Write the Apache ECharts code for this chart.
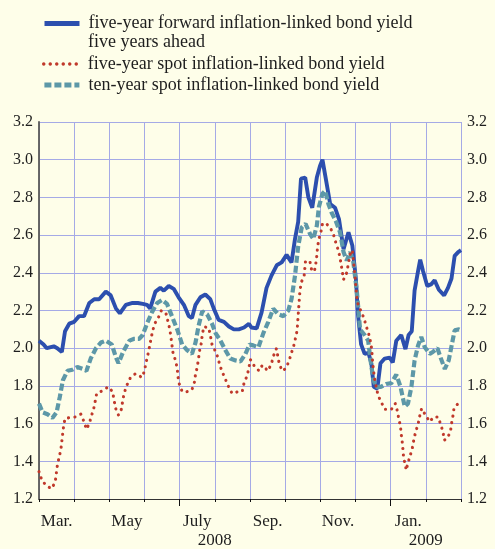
<!DOCTYPE html>
<html>
<head>
<meta charset="utf-8">
<title>Inflation-linked bond yields</title>
<script src="https://cdn.jsdelivr.net/npm/echarts@6/dist/echarts.min.js"></script>
<style>
  html, body { margin: 0; padding: 0; background: #fefee9; }
  #main { width: 495px; height: 549px; }
</style>
</head>
<body>
<div id="main"></div>
<script>
// x = months since 1 March 2008, y = yield in per cent
var monthNames = ['Mar.', 'Apr.', 'May', 'June', 'July', 'Aug.', 'Sep.', 'Oct.', 'Nov.', 'Dec.', 'Jan.', 'Feb.'];
var yearNames = ['2008', '2009'];
var yearAt = [5, 11];        // label centred on the Aug. / Feb. month boundary
var halfYearTicks = [4, 10]; // July and January

var fwdName = 'five-year forward inflation-linked bond yield';
var fwdName2 = 'five years ahead';
var spot5Name = 'five-year spot inflation-linked bond yield';
var spot10Name = 'ten-year spot inflation-linked bond yield';

var fwd = [
  [0, 2.04], [0.13, 2.02], [0.22, 2.00], [0.42, 2.01], [0.52, 2.00], [0.65, 1.98], [0.74, 2.09], [0.86, 2.13],
  [1.00, 2.14], [1.14, 2.17], [1.28, 2.17], [1.43, 2.24], [1.57, 2.26], [1.71, 2.26], [1.90, 2.30], [2.04, 2.28],
  [2.19, 2.21], [2.30, 2.185], [2.47, 2.23], [2.66, 2.24], [2.81, 2.24], [2.95, 2.235], [3.07, 2.23], [3.16, 2.21],
  [3.31, 2.30], [3.45, 2.32], [3.55, 2.305], [3.69, 2.33], [3.83, 2.315], [3.97, 2.27], [4.12, 2.23], [4.26, 2.17],
  [4.35, 2.16], [4.45, 2.23], [4.59, 2.27], [4.73, 2.285], [4.87, 2.26], [4.97, 2.21], [5.11, 2.15], [5.26, 2.14],
  [5.40, 2.115], [5.54, 2.10], [5.68, 2.10], [5.83, 2.11], [5.97, 2.13], [6.04, 2.11], [6.19, 2.105], [6.33, 2.19],
  [6.47, 2.32], [6.61, 2.385], [6.76, 2.44], [6.90, 2.455], [7.04, 2.495], [7.18, 2.455], [7.28, 2.58], [7.37, 2.67],
  [7.45, 2.90], [7.57, 2.905], [7.66, 2.80], [7.77, 2.745], [7.90, 2.905], [7.99, 2.967], [8.06, 3.00], [8.15, 2.905],
  [8.28, 2.765], [8.42, 2.745], [8.53, 2.685], [8.66, 2.525], [8.80, 2.615], [8.91, 2.545], [9.01, 2.37], [9.07, 2.18],
  [9.16, 2.02], [9.26, 1.97], [9.37, 1.975], [9.45, 1.92], [9.52, 1.795], [9.62, 1.785], [9.71, 1.92], [9.83, 1.945],
  [9.97, 1.95], [10.06, 1.925], [10.16, 2.04], [10.30, 2.07], [10.42, 1.995], [10.51, 2.07], [10.60, 2.09], [10.68, 2.305],
  [10.78, 2.41], [10.84, 2.47], [10.92, 2.41], [11.04, 2.33], [11.16, 2.34], [11.25, 2.36], [11.37, 2.31], [11.52, 2.28],
  [11.63, 2.32], [11.73, 2.37], [11.82, 2.49], [11.92, 2.51], [12, 2.52]
];

var spot5 = [
  [0, 1.345], [0.08, 1.30], [0.21, 1.27], [0.36, 1.255], [0.46, 1.29], [0.52, 1.375], [0.57, 1.42], [0.62, 1.46],
  [0.67, 1.54], [0.70, 1.586], [0.74, 1.627], [0.88, 1.632], [1.03, 1.635], [1.19, 1.65], [1.28, 1.61], [1.35, 1.57],
  [1.43, 1.60], [1.49, 1.64], [1.56, 1.683], [1.60, 1.72], [1.64, 1.76], [1.81, 1.775], [1.97, 1.795], [2.09, 1.77],
  [2.14, 1.72], [2.17, 1.685], [2.26, 1.645], [2.34, 1.675], [2.38, 1.72], [2.42, 1.76], [2.49, 1.80], [2.59, 1.84],
  [2.74, 1.865], [2.93, 1.845], [3.00, 1.88], [3.04, 1.92], [3.09, 1.96], [3.14, 2.005], [3.18, 2.045], [3.23, 2.09],
  [3.29, 2.13], [3.40, 2.165], [3.48, 2.20], [3.61, 2.185], [3.67, 2.14], [3.72, 2.10], [3.75, 2.06], [3.81, 1.976],
  [3.88, 1.935], [3.93, 1.895], [3.95, 1.85], [3.99, 1.81], [4.07, 1.77], [4.19, 1.768], [4.35, 1.78], [4.42, 1.82],
  [4.45, 1.86], [4.50, 1.90], [4.54, 1.95], [4.57, 1.99], [4.62, 2.03], [4.64, 2.07], [4.69, 2.115], [4.83, 2.106],
  [4.87, 2.07], [4.92, 2.02], [5.00, 1.99], [5.09, 1.95], [5.14, 1.91], [5.21, 1.875], [5.29, 1.84], [5.38, 1.80],
  [5.49, 1.76], [5.64, 1.768], [5.78, 1.77], [5.83, 1.815], [5.92, 1.855], [5.97, 1.897], [6.01, 1.94], [6.14, 1.90],
  [6.26, 1.88], [6.35, 1.91], [6.51, 1.88], [6.61, 1.918], [6.67, 1.96], [6.75, 1.997], [6.83, 1.92], [6.91, 1.88],
  [7.00, 1.89], [7.10, 1.926], [7.17, 1.97], [7.24, 2.01], [7.29, 2.05], [7.34, 2.094], [7.38, 2.20], [7.42, 2.305],
  [7.46, 2.35], [7.54, 2.385], [7.58, 2.465], [7.71, 2.455], [7.75, 2.417], [7.83, 2.406], [7.87, 2.447], [7.90, 2.49],
  [7.92, 2.535], [7.96, 2.58], [8.02, 2.62], [8.06, 2.66], [8.15, 2.664], [8.28, 2.64], [8.37, 2.605], [8.44, 2.56],
  [8.51, 2.52], [8.56, 2.48], [8.59, 2.447], [8.63, 2.40], [8.66, 2.364], [8.75, 2.40], [8.85, 2.50], [8.91, 2.52],
  [8.97, 2.41], [9.05, 2.245], [9.11, 2.217], [9.24, 2.16], [9.30, 2.12], [9.37, 2.08], [9.42, 2.04], [9.46, 1.997],
  [9.49, 1.918], [9.54, 1.839], [9.64, 1.75], [9.73, 1.715], [9.83, 1.676], [10.02, 1.675], [10.13, 1.706], [10.19, 1.667],
  [10.23, 1.627], [10.28, 1.583], [10.30, 1.544], [10.33, 1.50], [10.35, 1.46], [10.37, 1.415], [10.42, 1.38], [10.44, 1.353],
  [10.49, 1.39], [10.56, 1.433], [10.62, 1.474], [10.66, 1.516], [10.71, 1.556], [10.78, 1.597], [10.82, 1.635], [10.88, 1.68],
  [10.99, 1.645], [11.11, 1.61], [11.22, 1.635], [11.35, 1.635], [11.42, 1.597], [11.49, 1.556], [11.52, 1.512], [11.60, 1.52],
  [11.70, 1.556], [11.73, 1.60], [11.77, 1.64], [11.80, 1.68], [11.90, 1.703], [12, 1.688]
];

var spot10 = [
  [0, 1.706], [0.10, 1.66], [0.24, 1.65], [0.38, 1.63], [0.50, 1.66], [0.59, 1.74], [0.68, 1.83], [0.81, 1.88],
  [0.95, 1.886], [1.09, 1.90], [1.24, 1.89], [1.35, 1.88], [1.47, 1.945], [1.62, 2.00], [1.76, 2.03], [1.90, 2.04],
  [2.07, 2.02], [2.19, 1.95], [2.26, 1.92], [2.39, 1.98], [2.57, 2.04], [2.71, 2.05], [2.85, 2.05], [2.95, 2.07],
  [3.07, 2.13], [3.21, 2.19], [3.36, 2.24], [3.50, 2.256], [3.64, 2.235], [3.78, 2.17], [3.93, 2.10], [4.07, 2.02],
  [4.21, 1.99], [4.35, 1.97], [4.45, 2.03], [4.54, 2.12], [4.64, 2.195], [4.78, 2.18], [4.92, 2.13], [5.02, 2.08],
  [5.16, 2.04], [5.30, 1.99], [5.44, 1.945], [5.59, 1.935], [5.73, 1.93], [5.87, 1.97], [5.99, 2.02], [6.09, 2.015],
  [6.24, 2.005], [6.38, 2.08], [6.52, 2.14], [6.66, 2.21], [6.80, 2.18], [6.95, 2.17], [7.09, 2.20], [7.18, 2.26],
  [7.28, 2.385], [7.37, 2.54], [7.47, 2.64], [7.58, 2.66], [7.71, 2.605], [7.80, 2.58], [7.90, 2.65], [7.96, 2.75],
  [8.06, 2.82], [8.14, 2.835], [8.23, 2.765], [8.32, 2.72], [8.44, 2.675], [8.56, 2.615], [8.66, 2.51], [8.75, 2.465],
  [8.85, 2.51], [8.94, 2.455], [9.04, 2.30], [9.13, 2.10], [9.26, 2.07], [9.36, 2.04], [9.44, 1.92], [9.51, 1.83],
  [9.60, 1.795], [9.72, 1.795], [9.87, 1.81], [10.02, 1.815], [10.16, 1.86], [10.28, 1.795], [10.40, 1.69], [10.49, 1.705],
  [10.59, 1.795], [10.68, 1.935], [10.78, 2.015], [10.87, 2.06], [10.97, 2.005], [11.11, 1.97], [11.20, 1.98], [11.33, 2.00],
  [11.42, 1.95], [11.54, 1.89], [11.65, 1.935], [11.74, 2.02], [11.82, 2.095], [11.94, 2.10], [12, 2.095]
];

var font = 'Liberation Serif';
var gridColor = '#a5aae6';
var textColor = '#1e1e1e';
var fwdColor = '#2c4fae';
var spot5Color = '#c0392b';
var spot10Color = '#5d98a8';

// month names sit in the middle of every second month
var monthLabelAt = [];
for (var i = 0; i < monthNames.length; i += 2) {
    monthLabelAt.push(i + 0.5);
}

var myChart = echarts.init(document.getElementById('main'));

// one legend block per entry, so each key can get its own stroke width
function legendBox(name, top, width) {
    return {
        data: [name],
        left: 37,
        top: top,
        itemWidth: 35,
        itemHeight: 6,
        selectedMode: false,
        itemStyle: { opacity: 0 },
        lineStyle: { width: width },
        textStyle: {
            fontFamily: font,
            fontSize: 18,
            lineHeight: 21,
            color: textColor,
            padding: [0, 0, 0, 4]
        }
    };
}

myChart.setOption({
    backgroundColor: '#fefee9',
    animation: false,
    textStyle: { fontFamily: font },
    grid: { left: 39, right: 34, top: 122, bottom: 49 },
    legend: [
        legendBox(fwdName, 8, 5),
        legendBox(spot5Name, 48.5, 3.4),
        legendBox(spot10Name, 69.5, 4.8)
    ],
    graphic: [{
        type: 'text',
        left: 88,
        top: 33,
        style: {
            text: fwdName2,
            font: '18px "Liberation Serif"',
            fill: textColor
        }
    }],
    xAxis: [{
        type: 'value',
        position: 'bottom',
        min: 0,
        max: 12,
        interval: 1,
        axisLine: { show: true, onZero: false, lineStyle: { color: '#333', width: 1 } },
        axisTick: { show: true, length: 3, lineStyle: { color: '#111' } },
        splitLine: { show: true, lineStyle: { color: gridColor, width: 1 } },
        axisLabel: {
            customValues: monthLabelAt,
            formatter: function (v) { return monthNames[Math.floor(v)]; },
            margin: 14,
            fontSize: 17,
            fontFamily: font,
            color: textColor
        }
    }, {
        type: 'value',
        position: 'bottom',
        min: 0,
        max: 12,
        axisLine: { show: false, onZero: false },
        splitLine: { show: false },
        axisTick: { show: true, customValues: halfYearTicks, length: 7, lineStyle: { color: '#111' } },
        axisLabel: {
            customValues: yearAt,
            formatter: function (v) { return yearNames[yearAt.indexOf(v)]; },
            margin: 33,
            fontSize: 17,
            fontFamily: font,
            color: textColor
        }
    }],
    yAxis: [{
        type: 'value',
        position: 'left',
        min: 1.2,
        max: 3.2,
        interval: 0.2,
        axisLine: { show: true, lineStyle: { color: '#000', width: 1.5 } },
        axisTick: { show: false },
        splitLine: { show: true, lineStyle: { color: gridColor, width: 1 } },
        axisLabel: {
            formatter: function (v) { return v.toFixed(1); },
            margin: 6,
            fontSize: 16,
            fontFamily: font,
            color: textColor
        }
    }, {
        type: 'value',
        position: 'right',
        min: 1.2,
        max: 3.2,
        interval: 0.2,
        axisLine: { show: true, lineStyle: { color: '#777', width: 1.5 } },
        axisTick: { show: false },
        splitLine: { show: false },
        axisLabel: {
            formatter: function (v) { return v.toFixed(1); },
            margin: 6,
            fontSize: 16,
            fontFamily: font,
            color: textColor
        }
    }],
    series: [{
        name: fwdName,
        type: 'line',
        data: fwd,
        symbol: 'none',
        silent: true,
        z: 2,
        lineStyle: { color: fwdColor, width: 3.9 }
    }, {
        name: spot10Name,
        type: 'line',
        data: spot10,
        symbol: 'none',
        silent: true,
        z: 3,
        lineStyle: { color: spot10Color, width: 4.2, type: [7, 3] }
    }, {
        name: spot5Name,
        type: 'line',
        data: spot5,
        symbol: 'none',
        silent: true,
        z: 4,
        lineStyle: { color: spot5Color, width: 3.1, type: [0.1, 6.4], cap: 'round' }
    }]
});
</script>
</body>
</html>
